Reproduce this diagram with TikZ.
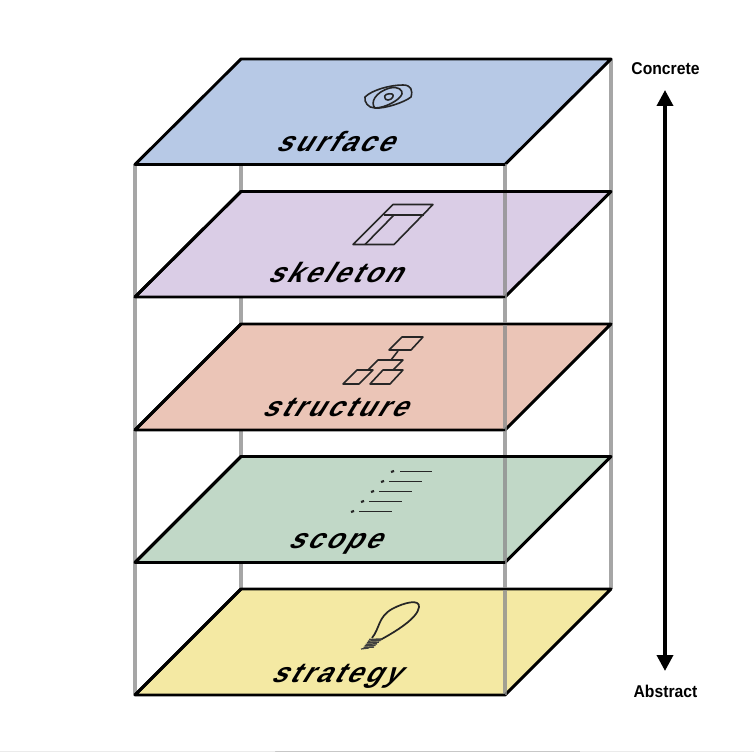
\documentclass[tikz,border=0pt]{standalone}
\usepackage{fontspec}
\setmainfont{Liberation Sans}
\newfontfamily\planefont[LetterSpace=11,FakeSlant=0.62,FakeStretch=0.98]{Liberation Sans Bold}
\newfontfamily\endfont[FakeStretch=0.92]{Liberation Sans Bold}
\usetikzlibrary{arrows.meta}
\definecolor{csurface}{HTML}{B7C9E6}
\definecolor{cskeleton}{HTML}{DACDE6}
\definecolor{cstructure}{HTML}{EBC5B7}
\definecolor{cscope}{HTML}{C1D8C7}
\definecolor{cstrategy}{HTML}{F4E9A3}
\definecolor{cpost}{HTML}{A6A6A6}
\definecolor{cpostover}{HTML}{8E8E8E}
\tikzset{
  x=0.75pt,y=-0.75pt,
  post/.style={draw=cpost,line width=3.5pt},
  postfront/.style={draw=cpostover,line width=3.5pt,opacity=0.8},
  plane/.style={draw=black,line width=2.2pt,line join=round},
  lbl/.style={font=\fontsize{21}{21}\planefont,inner sep=0pt,anchor=base},
  ico/.style={draw=black!85,line width=1.2pt,line join=round},
  endlbl/.style={font=\fontsize{12.8}{13}\endfont,inner sep=0pt},
  axis/.style={draw=black,line width=2.7pt,{Triangle[length=12pt,width=12pt]}-{Triangle[length=12pt,width=12pt]}}
}
\newcommand{\planeat}[3]{%
  \path[plane,fill=#3] (135,#2) -- (241,#1) -- (611,#1) -- (505,#2) -- cycle;
}
\begin{document}
\begin{tikzpicture}
\useasboundingbox (0,0) rectangle (754,752);
\coordinate (fl) at (135,164); \coordinate (flb) at (135,695);
\coordinate (bl) at (241,164); \coordinate (blb) at (241,589);
\coordinate (br) at (611,59);  \coordinate (brb) at (611,589);
\draw[post] (bl) -- (blb);
\draw[post] (br) -- (brb);
\draw[post] (fl) -- (flb);
\planeat{589}{695}{cstrategy}
\planeat{456.5}{562.5}{cscope}
\planeat{324}{430}{cstructure}
\planeat{191.5}{297}{cskeleton}
\planeat{59}{164.5}{csurface}
\coordinate (fr) at (505,164); \coordinate (frb) at (505,695);
\draw[postfront] (fr) -- (frb);
\path[plane] (135,695) -- (505,695);
\path[plane] (135,562.5) -- (505,562.5);
\path[plane] (135,430) -- (505,430);
\path[plane] (135,297) -- (505,297);
\path[plane] (135,164.5) -- (505,164.5);
\path[plane] (241,589) -- (611,589);
\path[plane] (241,456.5) -- (611,456.5);
\path[plane] (241,324) -- (611,324);
\path[plane] (241,191.5) -- (611,191.5);
\path[plane] (135,695) -- (241,589);
\path[plane] (135,562.5) -- (241,456.5);
\path[plane] (135,430) -- (241,324);
\path[plane] (135,297) -- (241,191.5);

\node[lbl] (surface) at (333.5,152) {surface};
\node[lbl] (skeleton) at (333.5,283) {skeleton};
\node[lbl] (structure) at (333.5,417) {structure};
\node[lbl] (scope) at (333.5,548) {scope};
\node[lbl] (strategy) at (334.5,682) {strategy};

% surface icon
\draw[ico] (365,97) .. controls (372,90) and (390,85) .. (403,85) .. controls (411,85) and (413,90) .. (411,97) .. controls (405,102) and (385,109) .. (375,108) .. controls (368,108) and (364,102) .. (365,97) -- cycle;
\draw[ico] (375,108) .. controls (370,103) and (375,92) .. (390,88) .. controls (398,86) and (403,90) .. (402,94) .. controls (400,100) and (385,108) .. (375,108);
\draw[ico] (385,98) .. controls (383,95) and (388,93) .. (392,94) .. controls (395,95) and (392,100) .. (388,100) .. controls (386,100) and (385,99) .. (385,98) -- cycle;
% skeleton icon
\draw[ico] (353,244.5) -- (393,204.5) -- (433,204.5) -- (394,244.5) -- cycle;
\draw[ico] (384,215) -- (423.5,215);
\draw[ico] (365,244.5) -- (394,215);
% structure icon
\draw[ico] (389,350) -- (402,337) -- (423,337) -- (411,350) -- cycle;
\draw[ico] (398,351) -- (391,360);
\draw[ico] (368,370) -- (378,360) -- (403,360) -- (393,370);
\draw[ico] (343,384) -- (357,370) -- (373,370) -- (359,384) -- cycle;
\draw[ico] (370,384) -- (383,370) -- (403,370) -- (390,384) -- cycle;
% scope icon
\draw[line width=1.4pt,black!85] (400,471.5) -- (432,471.5) (389,481.5) -- (422,481.5) (379,491.5) -- (412,491.5) (369,501.5) -- (402,501.5) (359,511.5) -- (392,511.5);
\draw[line width=1.6pt,black!85] (391,472) -- (394,471) (381,482) -- (384,481) (371,492) -- (374,491) (361,502) -- (364,501) (351,512) -- (354,511);
% strategy icon
\draw[ico,line width=1.3pt] (372,638) .. controls (380,628) and (378,617) .. (392,609) .. controls (405,602) and (420,599) .. (419,607) .. controls (418,618) and (395,632) .. (380,640);
\foreach \i in {0,1,...,5}{\draw[line width=1.1pt,black!75] (369-\i*1.1,639.5+\i*1.6) -- (382-\i*1.6,639+\i*1.6);}
\draw[line width=0.9pt,black!75] (361,649) -- (369,648);

\node[endlbl] (concrete) at (665.5,69) {Concrete};
\node[endlbl] (abstract) at (665.5,691.5) {Abstract};
\coordinate (atop) at (665,90); \coordinate (abot) at (665,671);
\draw[axis] (abot) -- (atop);
\fill[black!22] (275,751) rectangle (580,752);
\fill[black!8] (0,751) rectangle (275,752) (580,751) rectangle (754,752);
\end{tikzpicture}
\end{document}
